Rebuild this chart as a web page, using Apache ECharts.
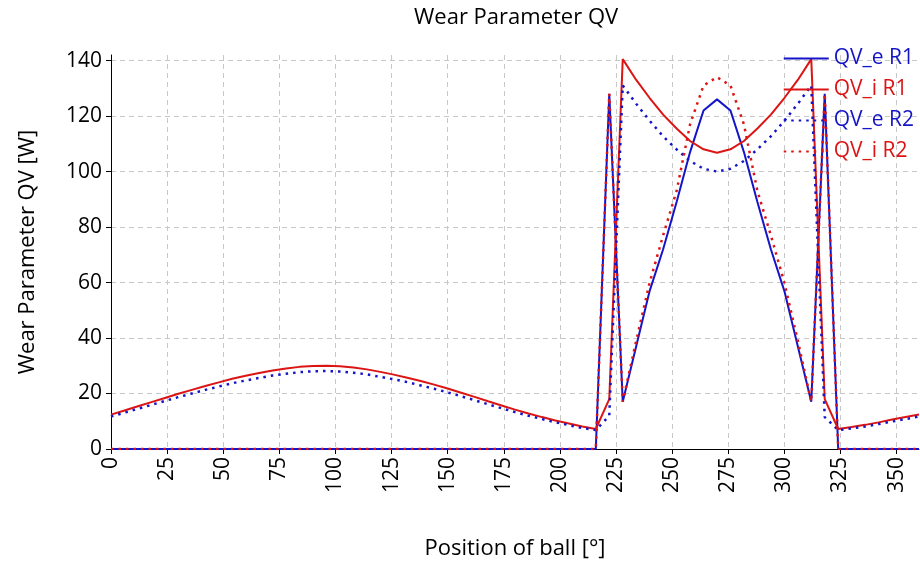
<!DOCTYPE html>
<html>
<head>
<meta charset="utf-8">
<script src="https://cdn.jsdelivr.net/npm/echarts@6/dist/echarts.min.js"></script>
<style>html,body{margin:0;padding:0;background:#fff;}#c{width:920px;height:568px;}</style>
</head>
<body>
<div id="c"></div>
<script>
const angles = [0,6,12,18,24,30,36,42,48,54,60,66,72,78,84,90,96,102,108,114,120,126,132,138,144,150,156,162,168,174,180,186,192,198,204,210,216,222,228,234,240,246,252,258,264,270,276,282,288,294,300,306,312,318,324,330,336,342,348,354,360];

const qvE_R1 = [0,0,0,0,0,0,0,0,0,0,0,0,0,0,0,0,0,0,0,0,0,0,0,0,0,0,0,0,0,0,0,0,0,0,0,0,0,128,17,37,57,72,89,107,122,126,122,107,89,72,57,37,17,128,0,0,0,0,0,0,0];

const qvI_R1 = [12.4,13.9,15.4,16.9,18.4,19.9,21.3,22.7,24.0,25.3,26.4,27.4,28.3,29.0,29.6,29.9,30.0,29.8,29.4,28.7,27.8,26.8,25.7,24.5,23.2,21.8,20.3,18.8,17.2,15.7,14.2,12.8,11.5,10.3,9.2,8.1,7.2,18.0,140.5,133.0,126.5,120.5,115.5,111.0,108.0,106.8,108.0,111.0,115.5,120.5,126.5,133.0,140.5,18.0,7.2,7.9,8.7,9.6,10.6,11.5,12.4];

const qvE_R2 = [11.7,13.1,14.5,15.9,17.3,18.7,20.0,21.3,22.5,23.7,24.7,25.6,26.5,27.1,27.7,28.0,28.1,27.9,27.5,26.9,26.0,25.1,24.1,22.9,21.7,20.4,19.0,17.6,16.1,14.7,13.3,12.0,10.8,9.6,8.6,7.6,6.8,12.0,131.0,124.4,118.3,112.7,108.0,103.8,101.0,100.0,101.0,103.8,108.0,112.7,118.3,124.4,131.0,11.5,6.8,7.4,8.1,9.0,9.9,10.8,11.7];

const qvI_R2 = [0,0,0,0,0,0,0,0,0,0,0,0,0,0,0,0,0,0,0,0,0,0,0,0,0,0,0,0,0,0,0,0,0,0,0,0,0,128,17,39,60,77,93,117,131,134,131,117,93,77,60,39,17,128,0,0,0,0,0,0,0];

const xTicks = [0,25,50,75,100,125,150,175,200,225,250,275,300,325,350];
const yTicks = [0,20,40,60,80,100,120,140];

const BLUE = '#1414C8';
const RED = '#DC1414';
const FONT = 'Open Sans';

function pairs(vals){ return angles.map((a,i)=>[a, vals[i]]); }

const chart = echarts.init(document.getElementById('c'), null, {renderer:'canvas'});
chart.setOption({
  animation:false,
  backgroundColor:'#fff',
  textStyle:{fontFamily:FONT},
  title:{text:'Wear Parameter QV', left:409, top:2, textStyle:{fontFamily:FONT, fontSize:22, fontWeight:'normal', color:'#000'}},
  grid:{left:111, right:1, top:55, bottom:119, containLabel:false},
  legend:{
    orient:'vertical', right:1, top:43, itemWidth:45, itemHeight:14, itemGap:10,
    itemStyle:{opacity:0},
    textStyle:{fontFamily:FONT, fontSize:21},
    data:[
      {name:'QV_e R1', textStyle:{color:BLUE}},
      {name:'QV_i R1', textStyle:{color:RED}},
      {name:'QV_e R2', textStyle:{color:BLUE}},
      {name:'QV_i R2', textStyle:{color:RED}}
    ]
  },
  xAxis:{
    type:'value', min:0, max:360, interval:25,
    name:'Position of ball [°]', nameLocation:'middle', nameGap:89,
    nameTextStyle:{fontFamily:FONT, fontSize:22, color:'#000'},
    axisLine:{show:true, lineStyle:{color:'#000', width:1}},
    axisTick:{show:true, length:5, lineStyle:{color:'#000'}},
    axisLabel:{rotate:90, fontSize:21, color:'#000', margin:8, showMaxLabel:false,
      formatter:function(v){ return xTicks.indexOf(v)>=0 ? String(v) : ''; }},
    splitLine:{show:true, showMinLine:false, showMaxLine:false, lineStyle:{color:'#c8c8c8', type:[5,4], width:1}}
  },
  yAxis:{
    type:'value', min:0, max:142, interval:20,
    name:'Wear Parameter QV [W]', nameLocation:'middle', nameGap:72,
    nameTextStyle:{fontFamily:FONT, fontSize:22, color:'#000'},
    axisLine:{show:true, lineStyle:{color:'#000', width:1}},
    axisTick:{show:true, length:5, lineStyle:{color:'#000'}},
    axisLabel:{fontSize:21, color:'#000', margin:9, showMaxLabel:false,
      formatter:function(v){ return yTicks.indexOf(v)>=0 ? String(v) : ''; }},
    splitLine:{show:true, showMinLine:false, showMaxLine:false, lineStyle:{color:'#c8c8c8', type:[5,4], width:1}}
  },
  series:[
    {name:'QV_e R1', type:'line', data:pairs(qvE_R1), symbol:'none', color:BLUE, lineStyle:{color:BLUE, width:2}},
    {name:'QV_i R1', type:'line', data:pairs(qvI_R1), symbol:'none', color:RED, lineStyle:{color:RED, width:2}},
    {name:'QV_e R2', type:'line', data:pairs(qvE_R2), symbol:'none', color:BLUE, lineStyle:{color:BLUE, width:2.5, type:[2.5,5]}},
    {name:'QV_i R2', type:'line', data:pairs(qvI_R2), symbol:'none', color:RED, lineStyle:{color:RED, width:2.5, type:[2.5,5]}}
  ]
});
</script>
</body>
</html>
